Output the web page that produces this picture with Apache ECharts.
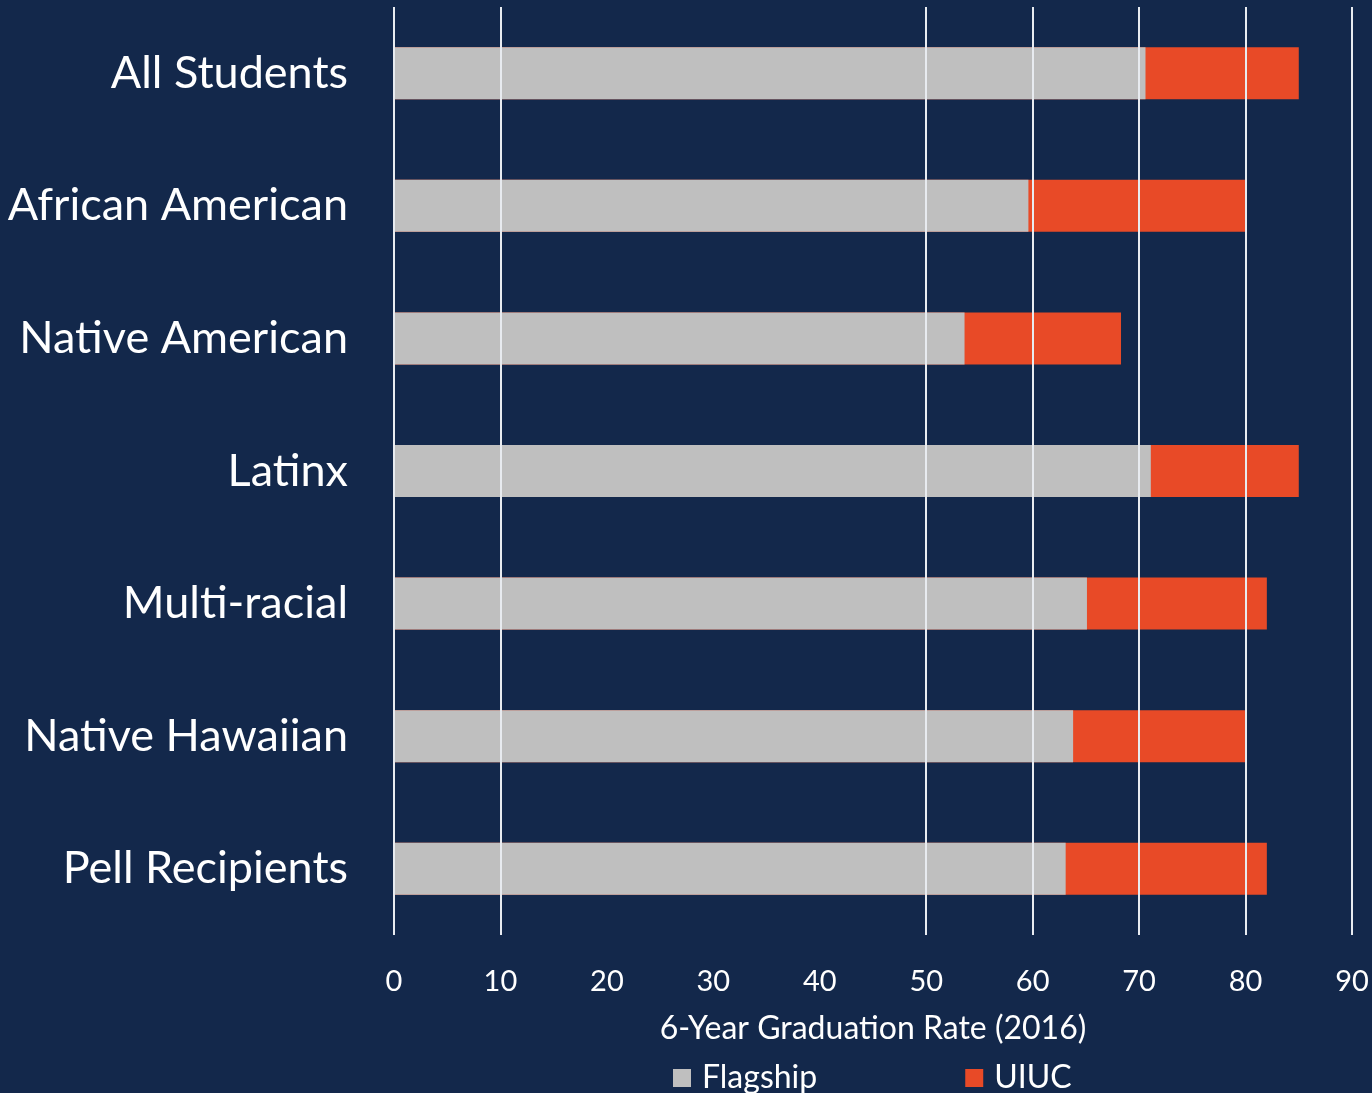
<!DOCTYPE html>
<html>
<head>
<meta charset="utf-8">
<script src="https://cdn.jsdelivr.net/npm/echarts@6/dist/echarts.min.js"></script>
<style>
  html, body { margin: 0; padding: 0; background: #13284B; }
  #chart { width: 1372px; height: 1093px; }
</style>
</head>
<body>
<div id="chart"></div>
<script>
// Student groups, top to bottom
const groups = ['All Students', 'African American', 'Native American', 'Latinx', 'Multi-racial', 'Native Hawaiian', 'Pell Recipients'];
// 6-year graduation rates (2016), percent
const flagship = [70.6, 59.6, 53.6, 71.1, 65.1, 63.8, 63.1];
const uiuc = [85, 80, 68.3, 85, 82, 80, 82];
// Vertical guide lines on the rate axis
const guideValues = [0, 10, 50, 60, 70, 80, 90];

const FONT = 'Lato';
const chart = echarts.init(document.getElementById('chart'));
chart.setOption({
  backgroundColor: '#13284B',
  animation: false,
  grid: { left: 394, right: 20, top: 7, bottom: 158 },
  legend: {
    data: ['Flagship', 'UIUC'],
    left: 668,
    top: 1057,
    itemWidth: 18,
    itemHeight: 18,
    itemGap: 148,
    icon: 'rect',
    textStyle: { color: '#ffffff', fontFamily: FONT, fontSize: 32, padding: [0, 0, 0, 6] }
  },
  xAxis: {
    type: 'value',
    min: 0, max: 90, interval: 10,
    name: '6-Year Graduation Rate (2016)',
    nameLocation: 'middle',
    nameGap: 78,
    nameTextStyle: { color: '#ffffff', fontFamily: FONT, fontSize: 32 },
    axisLine: { show: false },
    axisTick: { show: false },
    splitLine: { show: false },
    axisLabel: { color: '#ffffff', fontFamily: FONT, fontSize: 29, margin: 32 }
  },
  yAxis: {
    type: 'category',
    data: groups,
    inverse: true,
    axisLine: { show: false },
    axisTick: { show: false },
    axisLabel: { color: '#ffffff', fontFamily: FONT, fontSize: 45, margin: 46 }
  },
  series: [
    {
      name: 'guides',
      type: 'line',
      data: [],
      z: 0,
      silent: true,
      markLine: {
        silent: true,
        symbol: 'none',
        label: { show: false },
        lineStyle: { color: '#e8ebf0', width: 2, type: 'solid' },
        data: guideValues.map(v => ({ xAxis: v }))
      }
    },
    {
      name: 'UIUC',
      type: 'bar',
      data: uiuc,
      barWidth: 52,
      barGap: '-100%',
      z: 2,
      itemStyle: { color: '#E84A27' }
    },
    {
      name: 'Flagship',
      type: 'bar',
      data: flagship,
      barWidth: 52,
      barGap: '-100%',
      z: 3,
      itemStyle: { color: '#BFBFBF' }
    }
  ]
});
</script>
</body>
</html>
